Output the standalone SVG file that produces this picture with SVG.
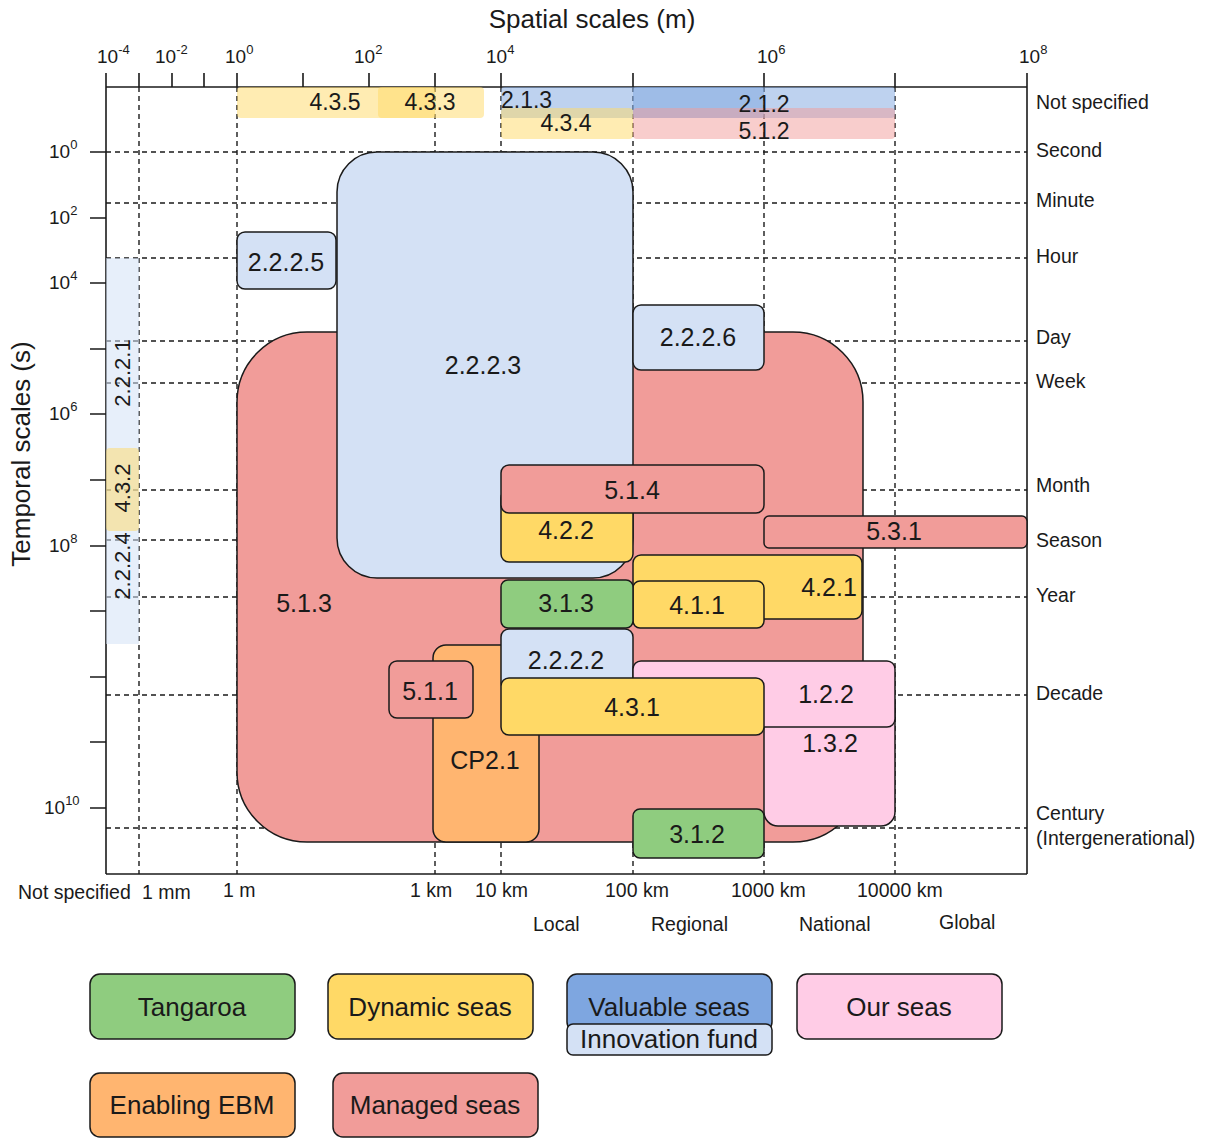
<svg xmlns="http://www.w3.org/2000/svg" width="1207" height="1138" viewBox="0 0 1207 1138">
<style>
text{font-family:"Liberation Sans",Arial,sans-serif;fill:#1a1a1a}
.ax{stroke:#1a1a1a;stroke-width:1.6;fill:none}
.grid{stroke:#1a1a1a;stroke-width:1.4;stroke-dasharray:5 4;fill:none}
.box{stroke:#1a1a1a;stroke-width:1.5}
.red{fill:#F19C99}.lb{fill:#D4E1F5}.blue{fill:#7EA6E0}.yel{fill:#FFD966}.grn{fill:#8FCC7F}.org{fill:#FFB570}.pnk{fill:#FFCCE6}
.bl{font-size:25px;text-anchor:middle}
.bd{font-size:23px;text-anchor:middle}
.tk{font-size:19px}
.sup{font-size:13px}
.rl{font-size:19.5px}
.lg{font-size:26px;text-anchor:middle}
</style>
<text x="592" y="28" style="font-size:26px;text-anchor:middle">Spatial scales (m)</text>
<text transform="translate(30,454) rotate(-90)" style="font-size:26px;text-anchor:middle">Temporal scales (s)</text>
<g id="grid">
<line class="grid" x1="106" y1="152" x2="1027" y2="152"/>
<line class="grid" x1="106" y1="203" x2="1027" y2="203"/>
<line class="grid" x1="106" y1="258" x2="1027" y2="258"/>
<line class="grid" x1="106" y1="341" x2="1027" y2="341"/>
<line class="grid" x1="106" y1="383" x2="1027" y2="383"/>
<line class="grid" x1="106" y1="490" x2="1027" y2="490"/>
<line class="grid" x1="106" y1="540" x2="1027" y2="540"/>
<line class="grid" x1="106" y1="597" x2="1027" y2="597"/>
<line class="grid" x1="106" y1="695" x2="1027" y2="695"/>
<line class="grid" x1="106" y1="828" x2="1027" y2="828"/>
<line class="grid" x1="139" y1="87" x2="139" y2="874"/>
<line class="grid" x1="237" y1="87" x2="237" y2="874"/>
<line class="grid" x1="435" y1="87" x2="435" y2="874"/>
<line class="grid" x1="501" y1="87" x2="501" y2="874"/>
<line class="grid" x1="633" y1="87" x2="633" y2="874"/>
<line class="grid" x1="764" y1="87" x2="764" y2="874"/>
<line class="grid" x1="895" y1="87" x2="895" y2="874"/>
</g>
<g id="axes">
<line class="ax" x1="106" y1="73" x2="106" y2="874"/>
<line class="ax" x1="1027" y1="73" x2="1027" y2="874"/>
<line class="ax" x1="106" y1="87" x2="1027" y2="87"/>
<line class="ax" x1="106" y1="874" x2="1027" y2="874"/>
<path class="ax" d="M139 73V87M172 73V87M204 73V87M237 73V87M303 73V87M369 73V87M435 73V87M501 73V87M633 73V87M764 73V87M895 73V87"/>
<path class="ax" d="M90 152H106M90 218H106M90 283H106M90 349H106M90 414H106M90 480H106M90 546H106M90 611H106M90 677H106M90 742H106M90 808H106"/>
</g>
<g id="tick-labels">
<text class="tk" x="97" y="63">10<tspan class="sup" dy="-9">-4</tspan></text>
<text class="tk" x="155" y="63">10<tspan class="sup" dy="-9">-2</tspan></text>
<text class="tk" x="225" y="63">10<tspan class="sup" dy="-9">0</tspan></text>
<text class="tk" x="354" y="63">10<tspan class="sup" dy="-9">2</tspan></text>
<text class="tk" x="486" y="63">10<tspan class="sup" dy="-9">4</tspan></text>
<text class="tk" x="757" y="63">10<tspan class="sup" dy="-9">6</tspan></text>
<text class="tk" x="1019" y="63">10<tspan class="sup" dy="-9">8</tspan></text>
<text class="tk" x="49" y="158">10<tspan class="sup" dy="-9">0</tspan></text>
<text class="tk" x="49" y="224">10<tspan class="sup" dy="-9">2</tspan></text>
<text class="tk" x="49" y="289">10<tspan class="sup" dy="-9">4</tspan></text>
<text class="tk" x="49" y="420">10<tspan class="sup" dy="-9">6</tspan></text>
<text class="tk" x="49" y="552">10<tspan class="sup" dy="-9">8</tspan></text>
<text class="tk" x="44" y="814">10<tspan class="sup" dy="-9">10</tspan></text>
</g>
<g id="right-labels">
<text class="rl" x="1036" y="109">Not specified</text>
<text class="rl" x="1036" y="157">Second</text>
<text class="rl" x="1036" y="207">Minute</text>
<text class="rl" x="1036" y="263">Hour</text>
<text class="rl" x="1036" y="344">Day</text>
<text class="rl" x="1036" y="388">Week</text>
<text class="rl" x="1036" y="492">Month</text>
<text class="rl" x="1036" y="547">Season</text>
<text class="rl" x="1036" y="602">Year</text>
<text class="rl" x="1036" y="700">Decade</text>
<text class="rl" x="1036" y="820">Century</text>
<text class="rl" x="1036" y="845">(Intergenerational)</text>
</g>
<g id="bottom-labels">
<text class="rl" x="18" y="899">Not specified</text>
<text class="rl" x="142" y="899">1 mm</text>
<text class="rl" x="223" y="897">1 m</text>
<text class="rl" x="410" y="897">1 km</text>
<text class="rl" x="475" y="897">10 km</text>
<text class="rl" x="605" y="897">100 km</text>
<text class="rl" x="731" y="897">1000 km</text>
<text class="rl" x="857" y="897">10000 km</text>
<text class="rl" x="533" y="931">Local</text>
<text class="rl" x="651" y="931">Regional</text>
<text class="rl" x="799" y="931">National</text>
<text class="rl" x="939" y="929">Global</text>
</g>
<g id="bands">
<rect x="237" y="87" width="198" height="31" rx="4" class="yel" opacity="0.5"/>
<rect x="378" y="87" width="106" height="31" rx="4" class="yel" opacity="0.5"/>
<rect x="501" y="87" width="263" height="31" rx="4" class="blue" opacity="0.5"/>
<rect x="633" y="87" width="262" height="31" rx="4" class="blue" opacity="0.5"/>
<rect x="501" y="108" width="132" height="31" rx="4" class="yel" opacity="0.5"/>
<rect x="633" y="108" width="262" height="31" rx="4" class="red" opacity="0.5"/>
<text class="bd" x="335" y="110">4.3.5</text>
<text class="bd" x="430" y="110">4.3.3</text>
<text class="bd" x="501" y="108" style="text-anchor:start">2.1.3</text>
<text class="bd" x="764" y="112">2.1.2</text>
<text class="bd" x="566" y="131">4.3.4</text>
<text class="bd" x="764" y="139">5.1.2</text>
</g>
<g id="strips">
<rect x="106" y="258" width="33" height="194" class="lb" opacity="0.55"/>
<rect x="106" y="452" width="33" height="192" class="lb" opacity="0.55"/>
<rect x="106" y="448" width="33" height="83" rx="4" class="yel" opacity="0.5"/>
<text class="bd" transform="translate(130,373) rotate(-90)" style="font-size:22px">2.2.2.1</text>
<text class="bd" transform="translate(130,488) rotate(-90)" style="font-size:22px">4.3.2</text>
<text class="bd" transform="translate(130,566) rotate(-90)" style="font-size:22px">2.2.2.4</text>
</g>
<g id="n513"><rect class="box red" x="237" y="332" width="626" height="510" rx="70"/><text class="bl" x="304" y="612">5.1.3</text></g>
<g id="n2223"><rect class="box lb" x="337" y="152" width="296" height="426" rx="40"/><text class="bl" x="483" y="374">2.2.2.3</text></g>
<g id="n2225"><rect class="box lb" x="237" y="232" width="99" height="57" rx="8"/><text class="bl" x="286" y="271">2.2.2.5</text></g>
<g id="n2226"><rect class="box lb" x="633" y="305" width="131" height="65" rx="8"/><text class="bl" x="698" y="346">2.2.2.6</text></g>
<g id="n422"><rect class="box yel" x="501" y="490" width="132" height="72" rx="8"/><text class="bl" x="566" y="539">4.2.2</text></g>
<g id="n514"><rect class="box red" x="501" y="465" width="263" height="48" rx="8"/><text class="bl" x="632" y="499">5.1.4</text></g>
<g id="n531"><rect class="box red" x="764" y="516" width="263" height="32" rx="5"/><text class="bl" x="894" y="540">5.3.1</text></g>
<g id="n421"><rect class="box yel" x="633" y="555" width="229" height="64" rx="8"/><text class="bl" x="829" y="596">4.2.1</text></g>
<g id="n411"><rect class="box yel" x="633" y="581" width="131" height="47" rx="7"/><text class="bl" x="697" y="614">4.1.1</text></g>
<g id="n313"><rect class="box grn" x="501" y="580" width="132" height="48" rx="7"/><text class="bl" x="566" y="612">3.1.3</text></g>
<g id="ncp21"><rect class="box org" x="433" y="645" width="106" height="197" rx="13"/><text class="bl" x="485" y="769">CP2.1</text></g>
<g id="n2222"><rect class="box lb" x="501" y="629" width="132" height="62" rx="8"/><text class="bl" x="566" y="669">2.2.2.2</text></g>
<g id="n132"><rect class="box pnk" x="764" y="690" width="131" height="136" rx="14"/><text class="bl" x="830" y="752">1.3.2</text></g>
<g id="n122"><rect class="box pnk" x="633" y="661" width="262" height="66" rx="8"/><text class="bl" x="826" y="703">1.2.2</text></g>
<g id="n431"><rect class="box yel" x="501" y="678" width="263" height="57" rx="8"/><text class="bl" x="632" y="716">4.3.1</text></g>
<g id="n511"><rect class="box red" x="389" y="661" width="84" height="57" rx="8"/><text class="bl" x="430" y="700">5.1.1</text></g>
<g id="n312"><rect class="box grn" x="633" y="809" width="131" height="49" rx="7"/><text class="bl" x="697" y="843">3.1.2</text></g>
<g id="legend">
<g id="lg-tangaroa"><rect class="box grn" x="90" y="974" width="205" height="65" rx="10"/><text class="lg" x="192" y="1016">Tangaroa</text></g>
<g id="lg-dynamic"><rect class="box yel" x="328" y="974" width="205" height="65" rx="10"/><text class="lg" x="430" y="1016">Dynamic seas</text></g>
<g id="lg-valuable"><rect class="box blue" x="567" y="974" width="205" height="58" rx="10"/><rect class="box lb" x="567" y="1024" width="205" height="31" rx="6"/><text class="lg" x="669" y="1016">Valuable seas</text><text class="lg" x="669" y="1048">Innovation fund</text></g>
<g id="lg-our"><rect class="box pnk" x="797" y="974" width="205" height="65" rx="10"/><text class="lg" x="899" y="1016">Our seas</text></g>
<g id="lg-enabling"><rect class="box org" x="90" y="1073" width="205" height="64" rx="10"/><text class="lg" x="192" y="1114">Enabling EBM</text></g>
<g id="lg-managed"><rect class="box red" x="333" y="1073" width="205" height="64" rx="10"/><text class="lg" x="435" y="1114">Managed seas</text></g>
</g>
<g id="connectors"/>
</svg>
